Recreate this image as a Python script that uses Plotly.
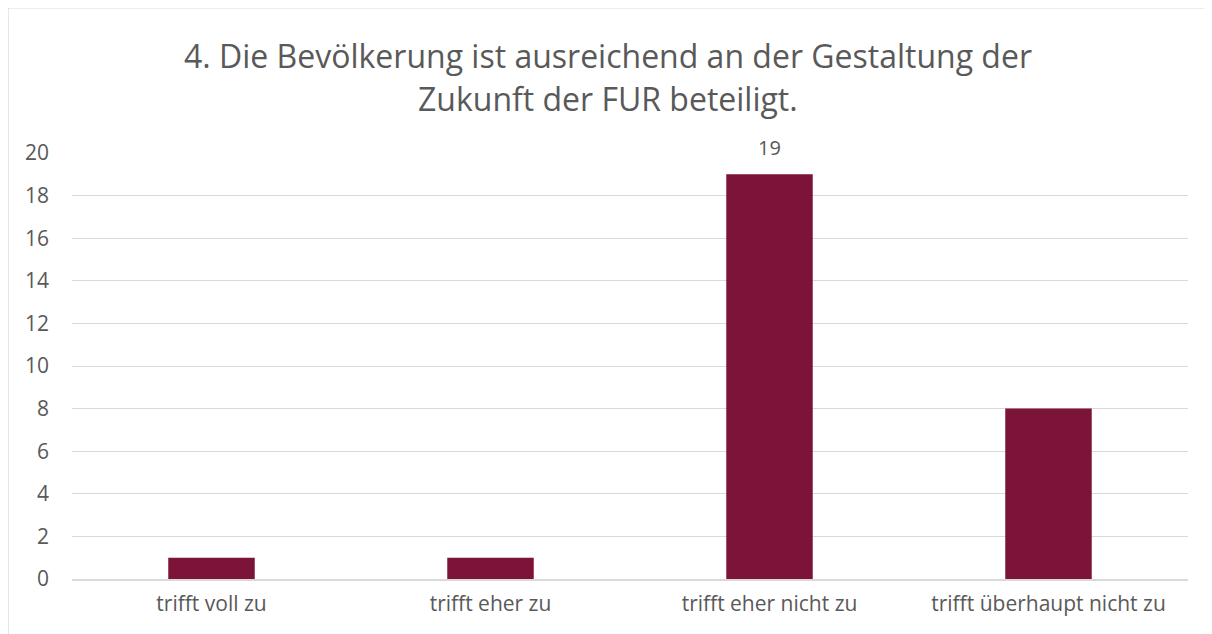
import plotly.graph_objects as go

categories = ["trifft voll zu", "trifft eher zu", "trifft eher nicht zu", "trifft überhaupt nicht zu"]
values = [1, 1, 19, 8]
labels = ["", "", "19", ""]
title_lines = ["4. Die Bevölkerung ist ausreichend an der Gestaltung der",
               "Zukunft der FUR beteiligt."]

FONT = "Open Sans, Noto Sans, sans-serif"
TXT = "#595959"

fig = go.Figure()
fig.add_trace(go.Bar(
    x=categories, y=values,
    marker=dict(color="#7C1338", line=dict(width=0)),
    hoverinfo="x+y",
))

for c, v, t in zip(categories, values, labels):
    if t:
        fig.add_annotation(x=c, y=v, text=t, showarrow=False, yanchor="bottom",
                           yshift=11, font=dict(family=FONT, size=20, color=TXT))

for i, line in enumerate(title_lines):
    fig.add_annotation(xref="paper", yref="paper", x=0.4803, y=1.0,
                       yanchor="middle", xanchor="center", text=line, showarrow=False,
                       yshift=[98, 55][i],
                       font=dict(family=FONT, size=32, color=TXT))

fig.add_shape(type="rect", xref="paper", yref="paper",
              x0=-0.0573, x1=1.2, y0=-0.3, y1=1.3404,
              line=dict(color="#D9D9D9", width=1.2), fillcolor="rgba(0,0,0,0)", layer="below")

fig.update_layout(
    width=1204, height=626,
    margin=dict(l=64, r=24, t=145, b=55),
    paper_bgcolor="white", plot_bgcolor="white",
    bargap=0.69,
    showlegend=False,
    font=dict(family=FONT, size=21, color=TXT),
    xaxis=dict(showline=True, linecolor="#D9D9D9", linewidth=1.5, ticks="",
               tickfont=dict(family=FONT, size=21, color=TXT), ticklabelstandoff=5,
               showgrid=False, zeroline=False),
    yaxis=dict(range=[0, 20], dtick=2, showgrid=True, gridcolor="#D9D9D9", gridwidth=1.2,
               showline=False, zeroline=False, ticks="",
               tickfont=dict(family=FONT, size=21, color=TXT), ticklabelstandoff=22),
)

fig.write_html("out.html")
